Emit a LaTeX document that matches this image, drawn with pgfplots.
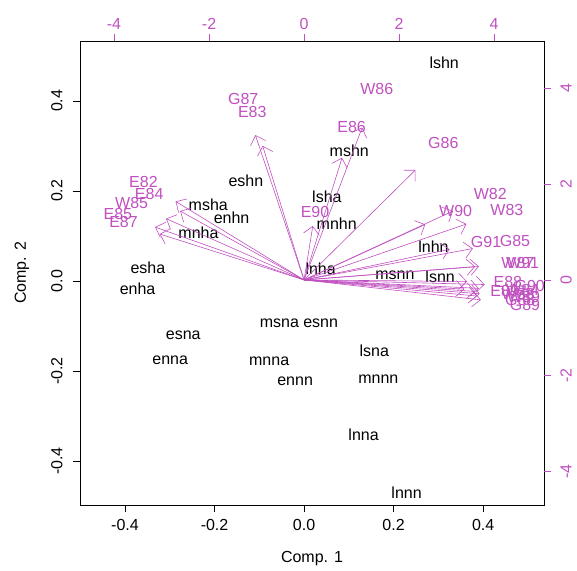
\documentclass[border=0pt]{standalone}
\usepackage{pgfplots}
\pgfplotsset{compat=1.18}
\usepackage{pgfplotstable}
\usepackage{fontspec}
\setmainfont{Liberation Sans}
\usetikzlibrary{arrows.meta}
\definecolor{mag}{RGB}{192,80,192}

\pgfplotstableread{
x y label
0.313 0.485 lshn
0.101 0.290 mshn
0.051 0.187 lsha
0.073 0.128 mnhn
-0.130 0.223 eshn
-0.214 0.169 msha
-0.162 0.141 enhn
-0.236 0.106 mnha
-0.349 0.030 esha
-0.372 -0.018 enha
0.037 0.026 lnha
0.203 0.013 msnn
0.304 0.010 lsnn
0.289 0.076 lnhn
-0.055 -0.094 msna
0.037 -0.094 esnn
-0.270 -0.120 esna
-0.299 -0.176 enna
-0.078 -0.179 mnna
-0.020 -0.222 ennn
0.157 -0.155 lsna
0.166 -0.218 mnnn
0.133 -0.341 lnna
0.229 -0.470 lnnn
}\scores

\pgfplotstableread{
x y label
-1.28 3.78 G87
-1.09 3.50 E83
-3.38 2.05 E82
-3.26 1.80 E84
-3.63 1.60 W85
-3.92 1.38 E85
-3.80 1.20 E87
1.53 3.98 W86
1.00 3.19 E86
2.93 2.87 G86
3.92 1.80 W82
4.27 1.46 W83
3.19 1.45 W90
0.23 1.41 E90
3.83 0.80 G91
4.44 0.82 G85
4.50 0.35 W87
4.60 0.35 W91
4.29 -0.04 E88
4.22 -0.24 E89
4.75 -0.12 G90
4.60 -0.22 W84
4.50 -0.30 W88
4.62 -0.36 W89
4.55 -0.42 G88
4.65 -0.52 G89
}\loadings

\begin{document}
\begin{tikzpicture}[font=\fontsize{16}{19}\selectfont]
\path[use as bounding box] (-80pt,-65pt) rectangle (497pt,505pt);
\begin{axis}[
  at={(0pt,0pt)}, anchor=south west,
  scale only axis, width=464pt, height=464pt,
  xmin=-0.5006, xmax=0.536, ymin=-0.498, ymax=0.533,
  xtick={-0.4,-0.2,0,0.2,0.4},
  xticklabels={-0.4,-0.2,0.0,0.2,0.4},
  ytick={-0.4,-0.2,0,0.2,0.4},
  yticklabels={-0.4,-0.2,0.0,0.2,0.4},
  xtick pos=left, ytick pos=left,
  tick align=outside, major tick length=7pt,
  tick style={black, line width=0.6pt},
  axis line style={line width=0.8pt},
  ticklabel style={font=\fontsize{16}{19}\selectfont},
  xticklabel style={yshift=-4pt},
  yticklabel style={xshift=-7pt, rotate=90, anchor=south},
  xlabel={Comp. 1}, ylabel={Comp. 2},
  every axis x label/.style={at={(axis description cs:0.5,-0.116)}, anchor=center},
  every axis y label/.style={at={(axis description cs:-0.125,0.5)}, anchor=center, rotate=90},
  label style={font=\fontsize{16}{19}\selectfont},
]
\addplot[only marks, mark=none, nodes near coords, point meta=explicit symbolic,
  nodes near coords style={anchor=center, font=\fontsize{16}{19}\selectfont, text=black}]
  table[x=x, y=y, meta=label] {\scores};
\end{axis}
\begin{axis}[
  at={(0pt,0pt)}, anchor=south west,
  scale only axis, width=464pt, height=464pt,
  xmin=-4.716, xmax=5.05, ymin=-4.70, ymax=4.99,
  xtick={-4,-2,0,2,4}, xticklabels={-4,-2,0,2,4},
  ytick={-4,-2,0,2,4}, yticklabels={-4,-2,0,2,4},
  xtick pos=right, ytick pos=right,
  xticklabel pos=right, yticklabel pos=right,
  tick align=outside, major tick length=7pt,
  tick style={mag, line width=0.6pt},
  axis line style={draw=none},
  ticklabel style={font=\fontsize{16}{19}\selectfont, text=mag},
  xticklabel style={yshift=1pt},
  yticklabel style={xshift=6pt, rotate=90, anchor=north},
]
\addplot[mag, line width=0.6pt,
  quiver={u=0.8*\thisrow{x}, v=0.8*\thisrow{y},
    every arrow/.append style={-{Straight Barb[length=8pt,width=16pt]}}}]
  table[x expr=0, y expr=0] {\loadings};
\addplot[only marks, mark=none, nodes near coords, point meta=explicit symbolic,
  nodes near coords style={anchor=center, font=\fontsize{16}{19}\selectfont, text=mag}]
  table[x=x, y=y, meta=label] {\loadings};
\end{axis}
\end{tikzpicture}
\end{document}
